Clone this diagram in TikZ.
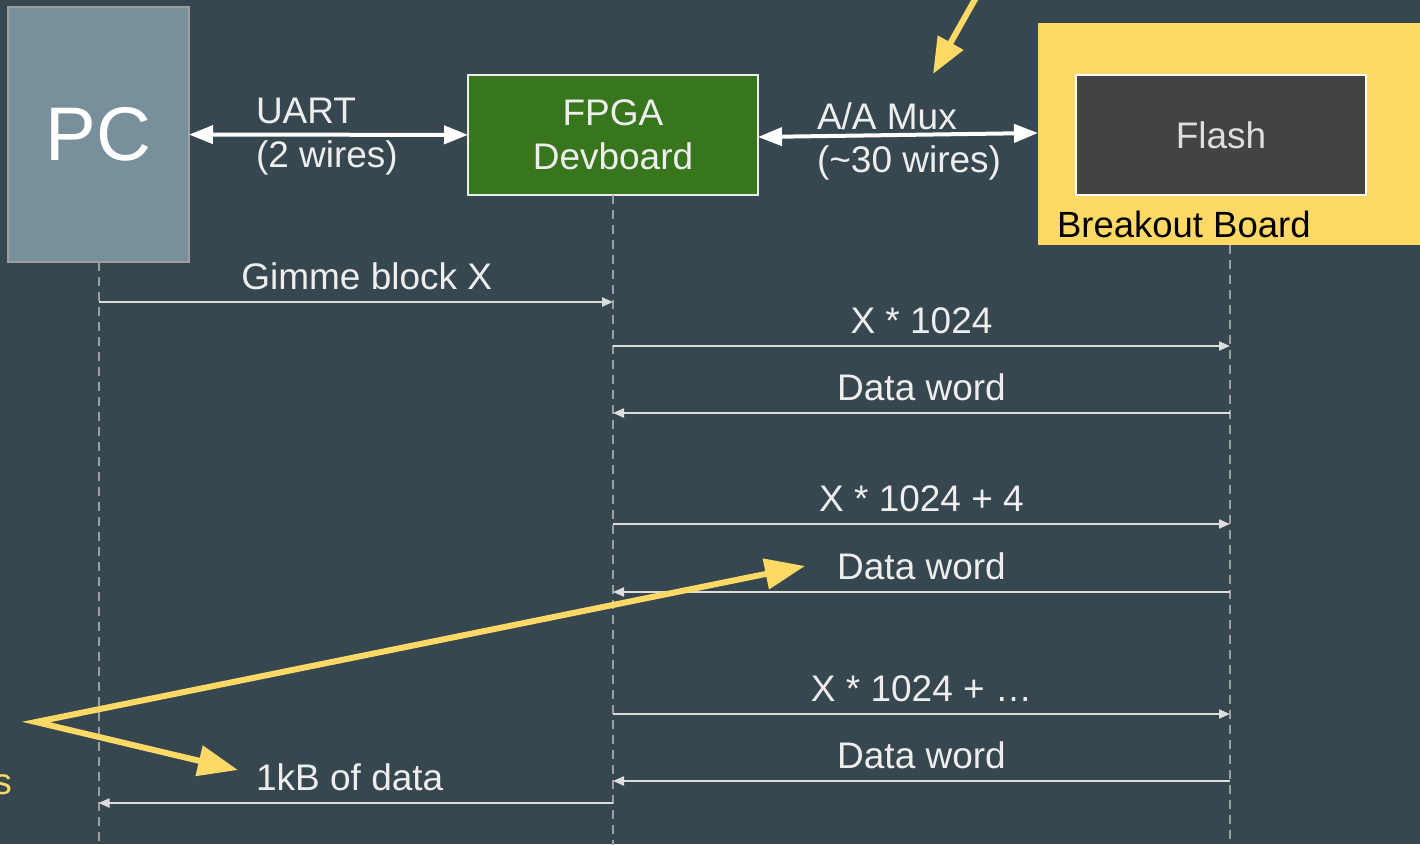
\documentclass[tikz,border=0pt]{standalone}
\usepackage{fontspec}
\setmainfont{Liberation Sans}
\usetikzlibrary{arrows.meta,calc}

\definecolor{bg}{HTML}{37474F}
\definecolor{pcfill}{HTML}{78909C}
\definecolor{pcedge}{HTML}{9E9E9E}
\definecolor{fpgafill}{HTML}{38761D}
\definecolor{flashfill}{HTML}{434343}
\definecolor{note}{HTML}{FFD966}
\definecolor{ink}{HTML}{EEEEEE}
\definecolor{flashink}{HTML}{DDDDDD}
\definecolor{wire}{HTML}{DDDDDD}
\definecolor{lifeline}{HTML}{9E9E9E}

\begin{document}
\begin{tikzpicture}[x=1pt,y=-1pt,
  every node/.style={inner sep=0pt,outer sep=0pt},
  big/.style={font=\fontsize{37}{44}\selectfont},
  block/.style={draw,line width=2pt,big,text=ink,align=center},
  lbl/.style={big,text=ink,anchor=base,yshift=13pt},
  side/.style={big,text=ink,anchor=base west},
  busarrow/.style={line width=4pt,white,
    {Triangle[length=24pt,width=18pt]}-{Triangle[length=24pt,width=18pt]}},
  msg/.style={line width=2pt,wire,-{Triangle[length=11pt,width=9pt]}},
  lifeln/.style={line width=2pt,lifeline,dash pattern=on 9pt off 6pt},
  callout/.style={line width=6pt,note,line join=miter}]

\useasboundingbox (0,0) rectangle (1420,844);
\fill[bg] (0,0) rectangle (1420,844);
\clip (0,0) rectangle (1420,844);

% participants
\node[block,draw=pcedge,fill=pcfill,text=white,minimum width=181pt,minimum height=255pt,
      font=\fontsize{76}{80}\selectfont] (pc) at (98.5,134.5) {PC};
\node[block,draw=ink,fill=fpgafill,minimum width=290pt,minimum height=120pt]
      (fpga) at (613,135) {FPGA\\Devboard};
\node[fill=note,minimum width=400pt,minimum height=222pt] (board) at (1238,134) {};
\node[block,draw=white,fill=flashfill,text=flashink,
      minimum width=290pt,minimum height=120pt] (flash) at (1221,135) {Flash};
\node[anchor=base west,text=black,font=\fontsize{36.5}{42}\selectfont]
      (boardlbl) at (1057,237) {Breakout Board};

% buses
\draw[busarrow] (pc) -- (fpga);
\node[side] (uart) at (256,123) {UART};
\node[side] (uartw) at (256,167) {(2 wires)};
\draw[busarrow] ([yshift=-2pt]fpga.east) -- ([yshift=1pt]board.west);
\node[side] (mux) at (817,129) {A/A Mux};
\node[side] (muxw) at (817,172) {(\char"007E 30 wires)};

% lifelines
\coordinate (bottom) at (0,850);
\coordinate (flashll) at (1230,245);
\draw[lifeln] (pc.south) -- (pc.south |- bottom);
\draw[lifeln] (fpga.south) -- (fpga.south |- bottom);
\draw[lifeln] (flashll) -- (flashll |- bottom);

% message rows
\coordinate (m1) at (0,302);
\coordinate (m2) at (0,346);
\coordinate (m3) at (0,413);
\coordinate (m4) at (0,524);
\coordinate (m5) at (0,592);
\coordinate (m6) at (0,714);
\coordinate (m7) at (0,781);
\coordinate (m8) at (0,803);

\draw[msg] (pc.south |- m1) -- (fpga.south |- m1) node[midway,lbl,xshift=11pt] {Gimme block X};
\draw[msg] (fpga.south |- m2) -- (flashll |- m2) node[midway,lbl] {X * 1024};
\draw[msg] (flashll |- m3) -- (fpga.south |- m3) node[midway,lbl] {Data word};
\draw[msg] (fpga.south |- m4) -- (flashll |- m4) node[midway,lbl] {X * 1024 + 4};
\draw[msg] (flashll |- m5) -- (fpga.south |- m5) node[midway,lbl] {Data word};
\draw[msg] (fpga.south |- m6) -- (flashll |- m6) node[midway,lbl] {X * 1024 + …};
\draw[msg] (flashll |- m7) -- (fpga.south |- m7) node[midway,lbl] {Data word};
\draw[msg] (fpga.south |- m8) -- (pc.south |- m8) node[midway,lbl,xshift=-6pt] {1kB of data};

% callouts
\coordinate (topstart) at (978,-6);
\coordinate (toptip) at (933,74);
\draw[callout,-{Triangle[length=36pt,width=28pt]}] (topstart) -- (toptip);

\coordinate (apex) at (36,722);
\coordinate (tipa) at (805,566);
\coordinate (tipb) at (238,770);
\draw[callout,{Triangle[length=40pt,width=30pt]}-{Triangle[length=40pt,width=30pt]}]
  (tipa) -- (apex) -- (tipb);
\node[big,text=note,anchor=base east] (tail) at (12,794) {s};
\end{tikzpicture}
\end{document}
